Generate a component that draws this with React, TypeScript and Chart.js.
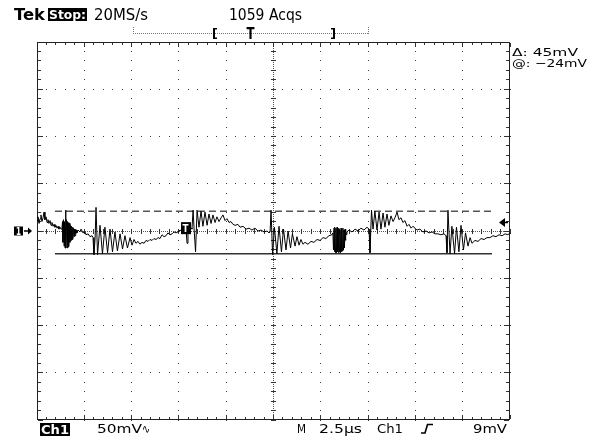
import React, { useEffect, useRef } from "react";
import { Chart, registerables } from "chart.js";

Chart.register(...registerables);

// Acquisition settings shown in the readouts
const voltsPerDivMV = 50;
const timePerDivUs = 2.5;
const divisionsX = 10;
const divisionsY = 8;
const sampleRateLabel = "20MS/s";
const acquisitionCount = 1059;
const triggerLevelMV = 9;

// Horizontal-bar cursors
const cursorAtMV = -24;
const cursorDeltaMV = 45;
const cursorSpanUs = [0.95, 24.05];

// Trigger point marker on the trace
const triggerMarkUs = 7.85;
const triggerMarkMV = 3;

// Ch1 record: sample times (µs from left edge of screen)
const sampleTimeUs = [
  0.0, 0.05, 0.11, 0.16, 0.21, 0.26, 0.32, 0.37, 0.42, 0.48, 0.53, 0.58, 0.63, 0.69, 0.74, 0.79, 0.85, 0.9, 0.95, 1.0, 1.06, 1.11, 1.16, 1.22, 1.27, 1.32,
  1.35, 1.37, 1.4, 1.43, 1.45, 1.48, 1.51, 1.53, 1.56, 1.59, 1.61, 1.64, 1.66, 1.69, 1.72, 1.74, 1.77, 1.8, 1.82, 1.85, 1.88, 1.9, 1.93, 1.96, 1.98, 2.01, 2.03, 2.06, 2.09, 2.11,
  2.17, 2.27, 2.33, 2.43, 2.54, 2.59, 2.7, 2.8, 2.91, 2.96,
  3.01, 3.07, 3.12, 3.2, 3.33, 3.46, 3.59, 3.73, 3.86, 3.99, 4.12, 4.25, 4.39, 4.52, 4.65, 4.78, 4.92, 5.02, 5.13, 5.23,
  5.34, 5.44, 5.55, 5.66, 5.76, 5.87, 5.97, 6.08, 6.18, 6.29, 6.4, 6.5, 6.61, 6.71, 6.82, 6.92, 7.03, 7.14, 7.24, 7.35, 7.45, 7.56, 7.66, 7.77, 7.88, 7.93, 7.98, 8.09, 8.14,
  8.19, 8.25, 8.3, 8.38, 8.46, 8.56, 8.67, 8.77, 8.88, 8.99, 9.09, 9.2, 9.3, 9.41, 9.51, 9.62, 9.73, 9.83, 9.94, 10.04, 10.15, 10.25, 10.36, 10.47, 10.62, 10.73, 10.89, 11.05, 11.21, 11.36, 11.52, 11.68, 11.84, 12.0, 12.16, 12.26, 12.32,
  12.37, 12.45, 12.55, 12.68, 12.79, 12.92, 13.03, 13.16, 13.27, 13.4, 13.5, 13.64, 13.74, 13.85, 13.95, 14.06,
  14.16, 14.32, 14.48, 14.64, 14.8, 14.96, 15.12, 15.27, 15.43, 15.59,
  15.64, 15.67, 15.7, 15.72, 15.75, 15.78, 15.8, 15.83, 15.86, 15.88, 15.91, 15.94, 15.96, 15.99, 16.01, 16.04, 16.07, 16.09, 16.12, 16.15, 16.17, 16.2, 16.23, 16.25, 16.28, 16.3, 16.33, 16.36, 16.38,
  16.49, 16.65, 16.81, 16.97, 17.12, 17.28, 17.44, 17.55,
  17.6, 17.68, 17.76, 17.86, 17.97, 18.08, 18.18, 18.29, 18.39, 18.5, 18.6, 18.71, 18.82, 18.92, 19.03, 19.13, 19.24, 19.34, 19.45, 19.56, 19.66, 19.77, 19.87, 19.98, 20.08, 20.24, 20.4, 20.56, 20.72, 20.88, 21.04, 21.19, 21.35, 21.51, 21.62,
  21.67, 21.72, 21.83, 21.93, 22.07, 22.17, 22.3, 22.41, 22.54, 22.65, 22.78, 22.89, 22.99,
  23.15, 23.31, 23.47, 23.63, 23.78, 23.94, 24.1, 24.26, 24.42, 24.58, 24.74, 24.89, 25.0,
];

// Ch1 record: amplitude in mV at each sample
const ch1MilliVolts = [
  11, 15, 8, 13, 17, 10, 14, 20, 12, 15, 9, 12, 8, 11, 6, 9, 5, 7, 4, 6, 3, 5, 2, 4, 2, 3,
  10, -12, 12, -16, 10, -18, 22, -18, 12, -18, 10, -17, 9, -16, 8, -12, 6, -10, 5, -9, 4, -8, 3, -6, 2, -5, 2, -3, 1, -2,
  1, -1, 2, -2, -1, -4, -3, -6, -5, -7,
  -25, -8, 25, -25, 6, -24, 4, -23, 2, -22, -1, -21, -3, -19, -5, -18, -7, -15, -9, -13,
  -11, -14, -12, -13, -10, -11, -9, -10, -8, -9, -7, -8, -4, -6, -5, -2, -4, -3, -1, -2, -1, 1, 0, 2, 1, -13, 1, 2, 3,
  2, 22, 3, -22, 22, 4, 21, 5, 20, 6, 18, 8, 17, 9, 15, 10, 14, 17, 11, 13, 9, 10, 7, 6, 7, 4, 5, 2, 3, 1, 3, 0, 1, -1, 0, -2, -1,
  22, -25, 4, -24, 5, -22, 2, -20, 0, -18, -3, -16, -6, -15, -9, -14,
  -12, -14, -11, -12, -9, -10, -7, -8, -5, -4,
  -2, -20, 3, -22, 4, -23, 3, -23, 4, -22, 2, -23, 3, -22, 1, -23, 3, -22, 2, -21, 3, -20, 1, -18, 2, -10, 0, -4, -1,
  1, -1, 2, 0, 3, 1, 4, 2,
  -23, 22, 2, 21, 1, 20, 2, 19, 4, 18, 6, 16, 10, 14, 20, 12, 14, 9, 11, 5, 7, 3, 5, 3, 1, 2, -1, 0, -2, -1, -3, -3, -4, -3, -5,
  -23, 22, -24, 5, -24, 4, -22, 6, -20, -2, -16, -7, -13,
  -10, -11, -8, -9, -7, -7, -5, -6, -4, -5, -3, -4, -2,
];

const FONT = '"DejaVu Sans", "Liberation Sans", sans-serif';

function stretchText(
  ctx: CanvasRenderingContext2D,
  text: string,
  x: number,
  baseline: number,
  font: string,
  width: number,
  color: string
) {
  ctx.save();
  ctx.font = font;
  ctx.fillStyle = color;
  ctx.textAlign = "left";
  ctx.textBaseline = "alphabetic";
  const w = ctx.measureText(text).width || 1;
  ctx.translate(x, baseline);
  ctx.scale(width / w, 1);
  ctx.fillText(text, 0, 0);
  ctx.restore();
}

// Dotted graticule: major lines as dots at each minor step, center lines with ticks, framed
const graticulePlugin = {
  id: "graticule",
  beforeDatasetsDraw(chart: any) {
    const { ctx, chartArea: a } = chart;
    const xs = chart.scales.x;
    const ys = chart.scales.y;
    const fullT = divisionsX * timePerDivUs;
    const halfV = (divisionsY / 2) * voltsPerDivMV;
    const xMinor: { p: number; major: boolean; idx: number }[] = [];
    const yMinor: { p: number; major: boolean; idx: number }[] = [];
    for (let i = 0; i <= divisionsX * 5; i++) {
      xMinor.push({ p: Math.floor(xs.getPixelForValue((i * timePerDivUs) / 5)), major: i % 5 === 0, idx: i });
    }
    for (let j = 0; j <= divisionsY * 5; j++) {
      yMinor.push({ p: Math.floor(ys.getPixelForValue(-halfV + (j * voltsPerDivMV) / 5)), major: j % 5 === 0, idx: j });
    }
    const cx = Math.floor(xs.getPixelForValue(fullT / 2));
    const cy = Math.floor(ys.getPixelForValue(0));
    const top = Math.round(a.top);
    const bottom = Math.round(a.bottom) - 1;
    const left = Math.round(a.left);
    const right = Math.round(a.right) - 1;

    ctx.save();
    ctx.fillStyle = "#3a3a3a";
    // dots along major verticals
    xMinor.forEach((xm) => {
      if (!xm.major || xm.idx === 0 || xm.idx === divisionsX * 5 || xm.p === cx) return;
      yMinor.forEach((ym) => ctx.fillRect(xm.p, ym.p, 1, 1));
    });
    // dots along major horizontals
    yMinor.forEach((ym) => {
      if (!ym.major || ym.idx === 0 || ym.idx === divisionsY * 5 || ym.p === cy) return;
      xMinor.forEach((xm) => ctx.fillRect(xm.p, ym.p, 1, 1));
    });
    // center crosshair: fine dotted lines with minor ticks
    ctx.fillStyle = "#555";
    for (let y = top; y <= bottom; y += 2) ctx.fillRect(cx, y, 1, 1);
    for (let x = left; x <= right; x += 2) ctx.fillRect(x, cy, 1, 1);
    ctx.fillStyle = "#333";
    yMinor.forEach((ym) => ctx.fillRect(cx - 2, ym.p, 5, 1));
    xMinor.forEach((xm) => ctx.fillRect(xm.p, cy - 2, 1, 5));
    // ticks on the frame edges
    xMinor.forEach((xm) => {
      const len = xm.major ? 4 : 2;
      ctx.fillRect(xm.p, top + 1, 1, len);
      ctx.fillRect(xm.p, bottom - len, 1, len);
    });
    yMinor.forEach((ym) => {
      const len = ym.major ? 5 : 3;
      ctx.fillRect(left + 1, ym.p, len, 1);
      ctx.fillRect(right - len, ym.p, len, 1);
    });
    // frame
    ctx.strokeStyle = "#222";
    ctx.lineWidth = 1;
    ctx.strokeRect(left + 0.5, top + 0.5, right - left, bottom - top);
    ctx.restore();
  },
};

// Readouts, channel markers and trigger indicators
const overlayPlugin = {
  id: "scopeOverlay",
  afterDraw(chart: any) {
    const { ctx } = chart;
    const xs = chart.scales.x;
    const ys = chart.scales.y;
    ctx.save();

    // header line
    stretchText(ctx, "Tek", 14, 20, `bold 15px ${FONT}`, 31, "#000");
    ctx.fillStyle = "#000";
    ctx.fillRect(48, 8, 39, 13);
    stretchText(ctx, "Stop:", 49, 19, `bold 13px ${FONT}`, 37, "#fff");
    stretchText(ctx, sampleRateLabel, 94, 20, `15px ${FONT}`, 54, "#000");
    stretchText(ctx, `${acquisitionCount} Acqs`, 229, 20, `15px ${FONT}`, 73, "#000");

    // record-position bar
    ctx.strokeStyle = "#777";
    ctx.lineWidth = 1;
    ctx.setLineDash([1, 1]);
    ctx.beginPath();
    ctx.moveTo(133, 33.5);
    ctx.lineTo(369, 33.5);
    ctx.moveTo(133.5, 27);
    ctx.lineTo(133.5, 34);
    ctx.moveTo(368.5, 27);
    ctx.lineTo(368.5, 34);
    ctx.stroke();
    ctx.setLineDash([]);
    ctx.fillStyle = "#000";
    ctx.fillRect(213, 28, 2, 11);
    ctx.fillRect(213, 28, 4, 1.5);
    ctx.fillRect(213, 37.5, 4, 1.5);
    ctx.fillRect(333, 28, 2, 11);
    ctx.fillRect(331, 28, 4, 1.5);
    ctx.fillRect(331, 37.5, 4, 1.5);
    stretchText(ctx, "T", 246.5, 39, `bold 15px ${FONT}`, 8, "#000");

    // cursor readouts
    stretchText(ctx, `\u0394: ${cursorDeltaMV}mV`, 512, 56, `11px ${FONT}`, 66, "#000");
    stretchText(ctx, `@: \u2212${Math.abs(cursorAtMV)}mV`, 512, 67, `11px ${FONT}`, 75, "#000");

    // channel ground marker
    const y0 = ys.getPixelForValue(0);
    ctx.fillStyle = "#000";
    ctx.fillRect(14, y0 - 4.5, 9, 9);
    stretchText(ctx, "1", 16, y0 + 4, `bold 11px ${FONT}`, 5, "#fff");
    ctx.fillStyle = "#000";
    ctx.fillRect(24, y0 - 0.75, 5, 1.5);
    ctx.beginPath();
    ctx.moveTo(32, y0);
    ctx.lineTo(28, y0 - 3.5);
    ctx.lineTo(28, y0 + 3.5);
    ctx.closePath();
    ctx.fill();

    // trigger level arrow
    const yt = ys.getPixelForValue(triggerLevelMV);
    const xr = chart.chartArea.right;
    ctx.beginPath();
    ctx.moveTo(xr - 11, yt);
    ctx.lineTo(xr - 5, yt - 4.5);
    ctx.lineTo(xr - 5, yt + 4.5);
    ctx.closePath();
    ctx.fill();
    ctx.fillRect(xr - 5, yt - 0.75, 3, 1.5);

    // trigger point marker on the trace
    const tx = xs.getPixelForValue(triggerMarkUs);
    const ty = ys.getPixelForValue(triggerMarkMV);
    ctx.fillStyle = "#000";
    ctx.fillRect(tx - 4.5, ty - 6, 10, 12);
    stretchText(ctx, "T", tx - 3, ty + 4, `bold 11px ${FONT}`, 6, "#fff");

    // bottom readouts
    ctx.fillStyle = "#000";
    ctx.fillRect(40, 423, 30, 13);
    stretchText(ctx, "Ch1", 41, 434, `bold 12px ${FONT}`, 28, "#fff");
    stretchText(ctx, `${voltsPerDivMV}mV`, 97, 433, `12px ${FONT}`, 45, "#000");
    stretchText(ctx, "\u223F", 142, 433, `12px ${FONT}`, 8, "#000");
    stretchText(ctx, "M", 297, 433, `12px ${FONT}`, 9, "#000");
    stretchText(ctx, `${timePerDivUs}\u00B5s`, 319, 433, `12px ${FONT}`, 43, "#000");
    stretchText(ctx, "Ch1", 377, 433, `12px ${FONT}`, 26, "#000");
    // rising-slope symbol
    ctx.strokeStyle = "#000";
    ctx.lineWidth = 1.6;
    ctx.beginPath();
    ctx.moveTo(421, 433);
    ctx.lineTo(425, 433);
    ctx.lineTo(427.5, 424.5);
    ctx.lineTo(433, 424.5);
    ctx.stroke();
    stretchText(ctx, `${triggerLevelMV}mV`, 473, 433, `12px ${FONT}`, 34, "#000");

    ctx.restore();
  },
};

export default function App() {
  const canvasRef = useRef<HTMLCanvasElement | null>(null);

  useEffect(() => {
    const canvas = canvasRef.current;
    if (!canvas) return;
    const halfV = (divisionsY / 2) * voltsPerDivMV;
    const trace = sampleTimeUs.map((t, i) => ({ x: t, y: ch1MilliVolts[i] }));
    const chart = new Chart(canvas, {
      type: "line",
      data: {
        datasets: [
          {
            label: "Ch1",
            data: trace,
            borderColor: "#000",
            borderWidth: 1,
            pointRadius: 0,
            tension: 0,
            order: 0,
          },
          {
            label: "Cursor Δ",
            data: cursorSpanUs.map((t) => ({ x: t, y: cursorAtMV + cursorDeltaMV })),
            borderColor: "#555",
            borderWidth: 1.5,
            borderDash: [7, 4],
            pointRadius: 0,
            order: 1,
          },
          {
            label: "Cursor @",
            data: cursorSpanUs.map((t) => ({ x: t, y: cursorAtMV })),
            borderColor: "#333",
            borderWidth: 1.5,
            pointRadius: 0,
            order: 1,
          },
        ],
      },
      options: {
        animation: false,
        responsive: false,
        events: [],
        layout: { padding: { left: 37, right: 82, top: 42, bottom: 22 } },
        scales: {
          x: { type: "linear", min: 0, max: divisionsX * timePerDivUs, display: false },
          y: { type: "linear", min: -halfV, max: halfV, display: false },
        },
        plugins: {
          legend: { display: false },
          tooltip: { enabled: false },
        },
      },
      plugins: [graticulePlugin, overlayPlugin],
    } as any);
    return () => chart.destroy();
  }, []);

  return (
    <div style={{ position: "fixed", left: 0, top: 0, width: 592, height: 442, background: "#fff" }}>
      <canvas ref={canvasRef} width={592} height={442} style={{ display: "block" }} />
    </div>
  );
}
